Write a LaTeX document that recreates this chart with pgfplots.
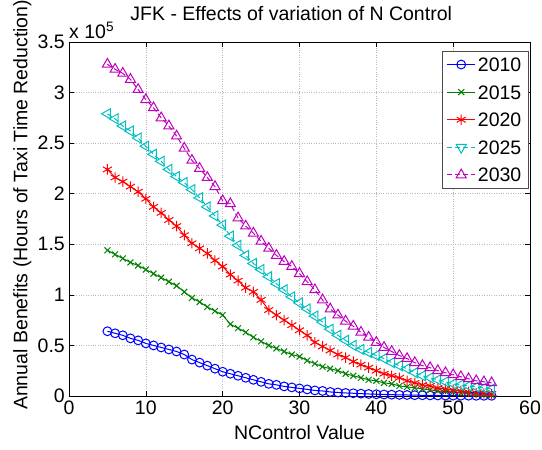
\documentclass[border=0pt]{standalone}
\usepackage{pgfplots}
\pgfplotsset{compat=1.18}
\usepackage{pgfplotstable}
\usepackage{fontspec}
\setmainfont{Liberation Sans}
\definecolor{mblue}{rgb}{0,0,1}
\definecolor{mgreen}{rgb}{0,0.5,0}
\definecolor{mred}{rgb}{1,0,0}
\definecolor{mcyan}{rgb}{0,0.75,0.75}
\definecolor{mmag}{rgb}{0.75,0,0.75}

% values in units of 10^5 hours
\pgfplotstableread{
x  a     b     c     d     e
5  0.64  1.44  2.24  2.79  3.28
6  0.62  1.40  2.16  2.74  3.23
7  0.60  1.36  2.12  2.67  3.19
8  0.57  1.32  2.07  2.62  3.13
9  0.55  1.29  2.02  2.55  3.03
10 0.52  1.25  1.95  2.47  2.93
11 0.50  1.21  1.87  2.39  2.85
12 0.48  1.17  1.81  2.32  2.75
13 0.46  1.13  1.74  2.24  2.67
14 0.44  1.09  1.68  2.17  2.57
15 0.41  1.03  1.59  2.11  2.45
16 0.36  0.97  1.51  2.04  2.33
17 0.33  0.93  1.46  1.96  2.25
18 0.30  0.88  1.41  1.87  2.16
19 0.27  0.84  1.34  1.78  2.07
20 0.24  0.80  1.28  1.69  1.93
21 0.22  0.71  1.20  1.58  1.90
22 0.20  0.67  1.14  1.49  1.76
23 0.18  0.63  1.07  1.39  1.68
24 0.16  0.58  1.03  1.31  1.61
25 0.14  0.54  0.95  1.25  1.53
26 0.12  0.50  0.85  1.18  1.46
27 0.11  0.47  0.80  1.11  1.39
28 0.095 0.44  0.75  1.05  1.33
29 0.085 0.41  0.70  0.98  1.28
30 0.075 0.39  0.65  0.92  1.21
31 0.065 0.35  0.60  0.86  1.13
32 0.055 0.32  0.53  0.79  1.05
33 0.05  0.29  0.49  0.73  0.95
34 0.04  0.27  0.45  0.66  0.86
35 0.035 0.25  0.41  0.60  0.80
36 0.03  0.22  0.38  0.55  0.74
37 0.027 0.20  0.34  0.50  0.69
38 0.023 0.18  0.31  0.46  0.63
39 0.02  0.16  0.28  0.43  0.58
40 0.017 0.15  0.25  0.40  0.53
41 0.015 0.13  0.22  0.37  0.48
42 0.013 0.12  0.20  0.33  0.44
43 0.011 0.10  0.18  0.30  0.40
44 0.01  0.09  0.15  0.27  0.37
45 0.008 0.08  0.13  0.23  0.33
46 0.007 0.07  0.11  0.20  0.30
47 0.006 0.06  0.10  0.18  0.28
48 0.005 0.05  0.08  0.16  0.25
49 0.004 0.045 0.07  0.14  0.23
50 0.004 0.04  0.06  0.12  0.21
51 0.003 0.03  0.05  0.11  0.19
52 0.003 0.025 0.04  0.10  0.17
53 0.002 0.02  0.03  0.09  0.15
54 0.002 0.015 0.025 0.08  0.14
55 0.002 0.01  0.02  0.07  0.13
}\data

\begin{document}
\begin{tikzpicture}[font=\fontsize{19.5}{23}\selectfont]
\begin{axis}[name=ax, scale only axis, width=461pt, height=354pt,
  xmin=0, xmax=60, ymin=0, ymax=3.5,
  xtick={0,10,...,60}, ytick={0,0.5,1,1.5,2,2.5,3,3.5},
  /pgf/number format/assume math mode=true,
  yticklabel style={/pgf/number format/fixed, /pgf/number format/precision=1, inner xsep=4pt},
  xticklabel style={inner ysep=5pt},
  grid=major, major grid style={gray!55, dotted, line width=0.6pt},
  tick align=inside, xtick pos=both, ytick pos=both, major tick length=5pt,
  axis line style={black, line width=0.6pt},
  every tick/.style={black, line width=0.6pt},
  title={JFK - Effects of variation of N Control},
  title style={at={(0.482,1)}, anchor=base, yshift=15pt, inner sep=0pt},
  xlabel={NControl Value},
  xlabel style={inner ysep=5pt},
  ylabel={Annual Benefits (Hours of Taxi Time Reduction)},
  ylabel style={at={(ticklabel cs:0.54)}, inner sep=2pt},
  legend cell align=left,
  legend style={at={(0.9957,0.975)}, anchor=north east, draw=black!70,
    font=\fontsize{19.5}{23}\selectfont, row sep=13.6pt, inner xsep=4.5pt, inner ysep=6.5pt,
    nodes={inner ysep=0pt, inner xsep=2pt, text height=14pt, text depth=0pt}},
  legend image code/.code={\draw[mark repeat=2,mark phase=2] plot coordinates {(0cm,0cm) (0.5cm,0cm) (1.0cm,0cm)};},
]
\addplot[mblue, line width=1pt, mark=o, mark size=4.4pt] table[x=x,y=a]{\data};
\addlegendentry{2010}
\addplot[mgreen, line width=1pt, mark=x, mark size=4.2pt] table[x=x,y=b]{\data};
\addlegendentry{2015}
\addplot[mred, line width=1pt, mark=asterisk, mark size=5.2pt] table[x=x,y=c]{\data};
\addlegendentry{2020}
\addplot[mcyan, line width=1pt, dash pattern=on 5pt off 3pt, mark=triangle, mark size=5.8pt, mark options={solid, rotate=90}, forget plot] table[x=x,y=d]{\data};
\addlegendimage{mcyan, line width=1pt, dash pattern=on 5pt off 3pt, mark=triangle, mark size=5.8pt, mark options={solid, rotate=180}}
\addlegendentry{2025}
\addplot[mmag, line width=1pt, dash pattern=on 5pt off 3pt, mark=triangle, mark size=5.8pt, mark options={solid}] table[x=x,y=e]{\data};
\addlegendentry{2030}
\end{axis}
\node[anchor=base west, inner sep=0pt] at ([shift={(0pt,3pt)}]ax.north west) {x 10\textsuperscript{5}};
\pgfresetboundingbox
\path[use as bounding box] ([shift={(-69pt,-54pt)}]ax.south west) rectangle ([shift={(12pt,42pt)}]ax.north east);
\end{tikzpicture}
\end{document}
